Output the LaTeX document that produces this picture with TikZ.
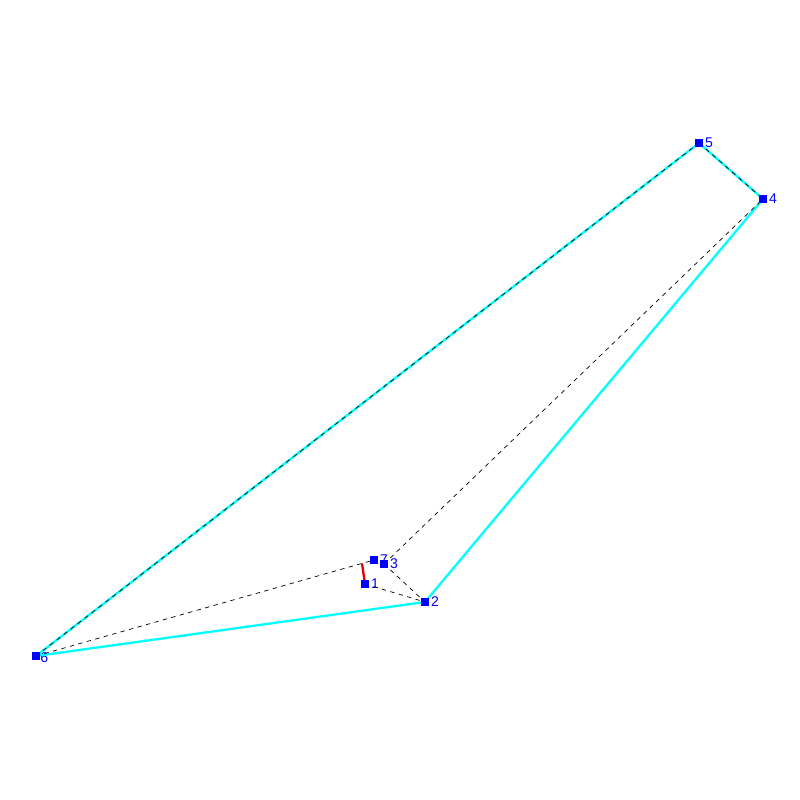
\documentclass[tikz,border=0pt]{standalone}
\usepackage{fontspec}
\setmainfont{Liberation Sans}
\usetikzlibrary{positioning}
\definecolor{hullcyan}{RGB}{0,255,255}
\definecolor{ptblue}{RGB}{0,0,255}
\definecolor{cutred}{RGB}{230,0,0}

\begin{document}
\begin{tikzpicture}[
  vert/.style={draw=none, minimum size=0.16cm, inner sep=0pt, outer sep=0pt},
  lbl/.style={font=\footnotesize, text=ptblue, inner sep=1pt},
  hull/.style={hullcyan, line width=1.3pt},
  diag/.style={black, line width=0.4pt, dash pattern=on 2.5pt off 2.5pt},
  cut/.style={cutred, line width=1.3pt}
]
\useasboundingbox (0,0) rectangle (16,16);
\node[vert] (v1) at (7.30,4.32) {};
\node[vert] (v2) at (8.50,3.96) {};
\node[vert] (v3) at (7.68,4.72) {};
\node[vert] (v4) at (15.26,12.02) {};
\node[vert] (v5) at (13.98,13.14) {};
\node[vert] (v6) at (0.72,2.88) {};
\node[vert] (v7) at (7.48,4.80) {};
\coordinate (foot) at (7.24,4.73);

\node[lbl, right=0pt of v1] {1};
\node[lbl, right=0pt of v2] {2};
\node[lbl, right=0pt of v3] {3};
\node[lbl, right=0pt of v4] {4};
\node[lbl, right=0pt of v5] {5};
\node[lbl, right=-1pt of v6, yshift=-1pt] {6};
\node[lbl, right=0pt of v7] {7};

% hull
\draw[hull] (v6.center) -- (v2.center) -- (v4.center) -- (v5.center) -- cycle;
% diagonals
\draw[diag] (v6.center) -- (v5.center);
\draw[diag] (v5.center) -- (v4.center);
\draw[diag] (v6.center) -- (v7.center);
\draw[diag] (v1.center) -- (v2.center);
\draw[diag] (v3.center) -- (v2.center);
\draw[diag] (v3.center) -- (v4.center);
\draw[cut] (foot) -- (v1.center);

\foreach \v in {v1,v2,v3,v4,v5,v6,v7}
  \fill[ptblue] (\v.south west) rectangle (\v.north east);
\end{tikzpicture}
\end{document}
